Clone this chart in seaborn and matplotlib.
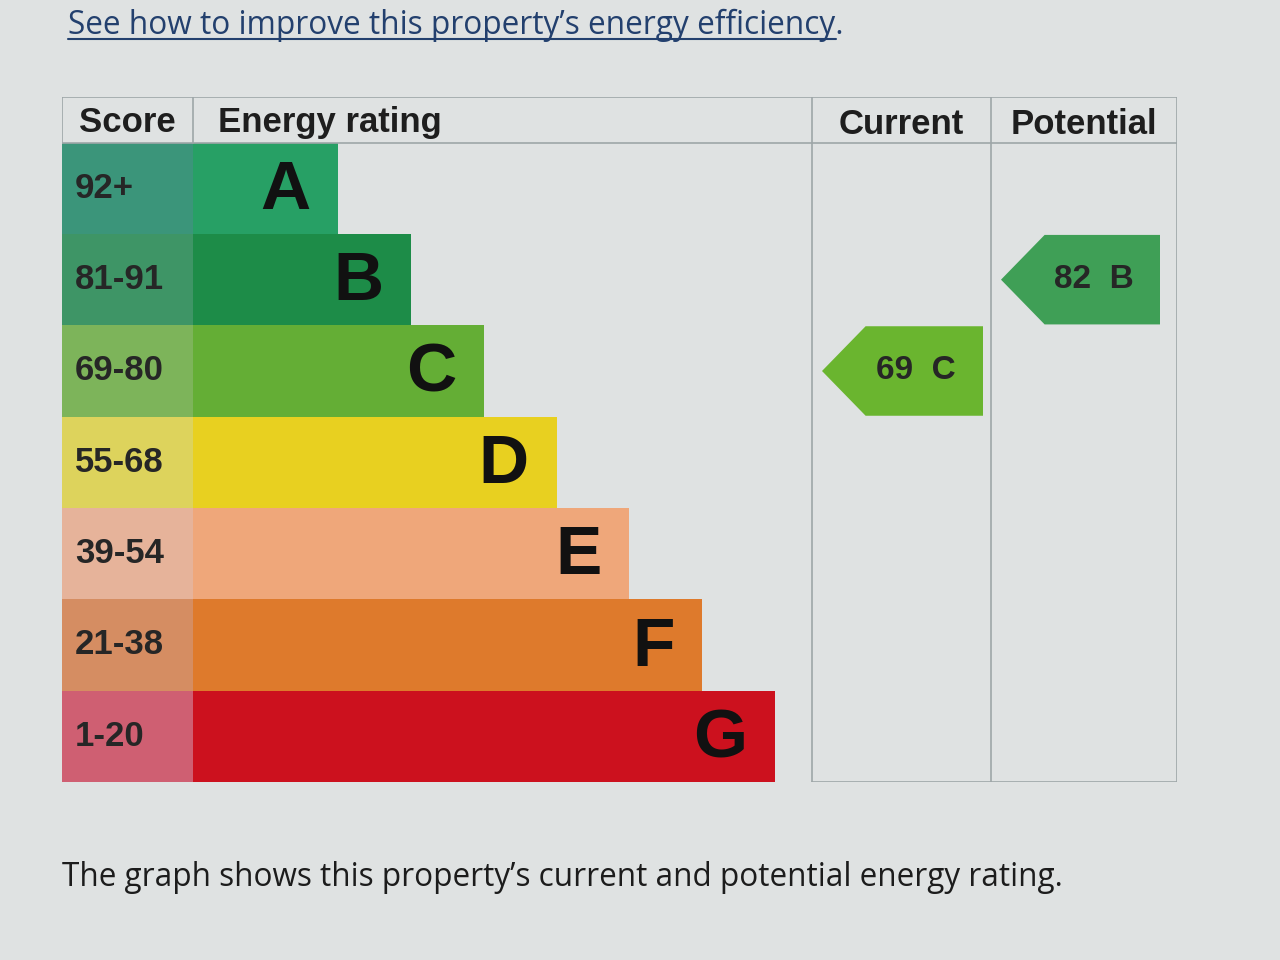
import matplotlib
matplotlib.use("Agg")
import matplotlib.pyplot as plt
from matplotlib.patches import Polygon, Rectangle
import seaborn as sns
import pandas as pd

# ---- data ----
bands = ["A", "B", "C", "D", "E", "F", "G"]
score_ranges = ["92+", "81-91", "69-80", "55-68", "39-54", "21-38", "1-20"]
band_lower = [92, 81, 69, 55, 39, 21, 1]
band_length = [2, 3, 4, 5, 6, 7, 8]
bar_colors = ["#27a065", "#1d8c48", "#64ae35", "#e8d020", "#efa77a", "#de7a2c", "#cc111e"]
cell_colors = ["#3b957a", "#3e9566", "#7db45a", "#ddd35c", "#e6b39a", "#d58d62", "#cf5f72"]
current_score = 69
potential_score = 82
current_color = "#6ab52f"
potential_color = "#3f9f56"
headers = ["Score", "Energy rating", "Current", "Potential"]

def band_index(score):
    for i, lo in enumerate(band_lower):
        if score >= lo:
            return i
    return len(band_lower) - 1

df = pd.DataFrame({"band": bands, "length": band_length})

sns.set_theme(style="white")
plt.rcParams["font.family"] = ["Liberation Sans", "DejaVu Sans"]
bg = "#dfe2e2"
fig = plt.figure(figsize=(12.8, 9.6), dpi=100, facecolor=bg)

# table axes
ax = fig.add_axes([62 / 1280, (960 - 782) / 960, (1177 - 62) / 1280, (782 - 97) / 960])
ax.set_facecolor(bg)
unit = 72.7
x_left = (62 - 193) / unit
x_right = (1177 - 193) / unit
ax.set_xlim(x_left, x_right)

sns.barplot(data=df, y="band", x="length", hue="band", palette=bar_colors,
            orient="h", width=1.0, dodge=False, legend=False, ax=ax,
            linewidth=0, saturation=1)
ax.set_ylim(6.5, -1.0)
ax.set_xlabel("")
ax.set_ylabel("")
ax.set_xticks([])
ax.set_yticks([])
for s in ax.spines.values():
    s.set_visible(False)

line_c = "#9ea6a8"
# score cells
for i, (rng, c) in enumerate(zip(score_ranges, cell_colors)):
    ax.add_patch(Rectangle((x_left, i - 0.5), -x_left, 1.0, facecolor=c, edgecolor="none", zorder=1))
    ax.text(x_left + 0.18, i, rng, ha="left", va="center", fontsize=25,
            fontweight="bold", color="#262626", zorder=3)

# band letters
for i, (b, L) in enumerate(zip(bands, band_length)):
    ax.text(L - 0.38, i + 0.03, b, ha="right", va="center", fontsize=50,
            fontweight="bold", color="#111111", zorder=3)

# table lines
col_cur = (812 - 193) / unit
col_pot = (991 - 193) / unit
ax.plot([x_left, x_right], [-1.0, -1.0], color=line_c, lw=1.2, zorder=4)
ax.plot([x_left, x_right], [-0.5, -0.5], color=line_c, lw=1.2, zorder=4)
ax.plot([x_left, x_left], [-1.0, -0.5], color=line_c, lw=1.2, zorder=4)
ax.plot([0, 0], [-1.0, -0.5], color=line_c, lw=1.2, zorder=4)
for xc in (col_cur, col_pot, x_right):
    ax.plot([xc, xc], [-1.0, 6.5], color=line_c, lw=1.2, zorder=4)
ax.plot([col_cur, x_right], [6.5, 6.5], color=line_c, lw=1.2, zorder=4)

# headers
ax.text((x_left + 0) / 2, -0.72, headers[0], ha="center", va="center",
        fontsize=25, fontweight="bold", color="#1e1e1e")
ax.text(0.35, -0.72, headers[1], ha="left", va="center",
        fontsize=25, fontweight="bold", color="#1e1e1e")
ax.text((col_cur + col_pot) / 2, -0.70, headers[2], ha="center", va="center",
        fontsize=25, fontweight="bold", color="#1e1e1e")
ax.text((col_pot + x_right) / 2, -0.70, headers[3], ha="center", va="center",
        fontsize=25, fontweight="bold", color="#1e1e1e")

# arrows
def arrow(score, color, x0, x1):
    i = band_index(score)
    h = 0.49
    tip = 0.6
    pts = [(x0, i), (x0 + tip, i - h), (x1, i - h), (x1, i + h), (x0 + tip, i + h)]
    ax.add_patch(Polygon(pts, closed=True, facecolor=color, edgecolor="none", zorder=3))
    ax.text((x0 + tip + x1) / 2 - 0.12, i, f"{score}  {bands[i]}", ha="center", va="center",
            fontsize=24, fontweight="bold", color="#262626", zorder=4)

arrow(current_score, current_color, (822 - 193) / unit, (983 - 193) / unit)
arrow(potential_score, potential_color, (1001 - 193) / unit, (1160 - 193) / unit)

# page texts
link = fig.text(68 / 1280, 1 - 34 / 960, "See how to improve this property\u2019s energy efficiency.",
                ha="left", va="baseline", fontsize=22.8, color="#23406e",
                family=["Open Sans", "DejaVu Sans"])
fig.text(62 / 1280, 1 - 886 / 960, "The graph shows this property\u2019s current and potential energy rating.",
         ha="left", va="baseline", fontsize=22.7, color="#1c1c1c",
         family=["Open Sans", "DejaVu Sans"])

fig.canvas.draw()
bb = link.get_window_extent().transformed(fig.transFigure.inverted())
y_ul = 1 - 39 / 960
fig.add_artist(plt.Line2D([bb.x0, bb.x1 - 0.006], [y_ul, y_ul], color="#23406e", lw=1.5,
                          transform=fig.transFigure))

fig.savefig("out.png", dpi=100, facecolor=bg)
